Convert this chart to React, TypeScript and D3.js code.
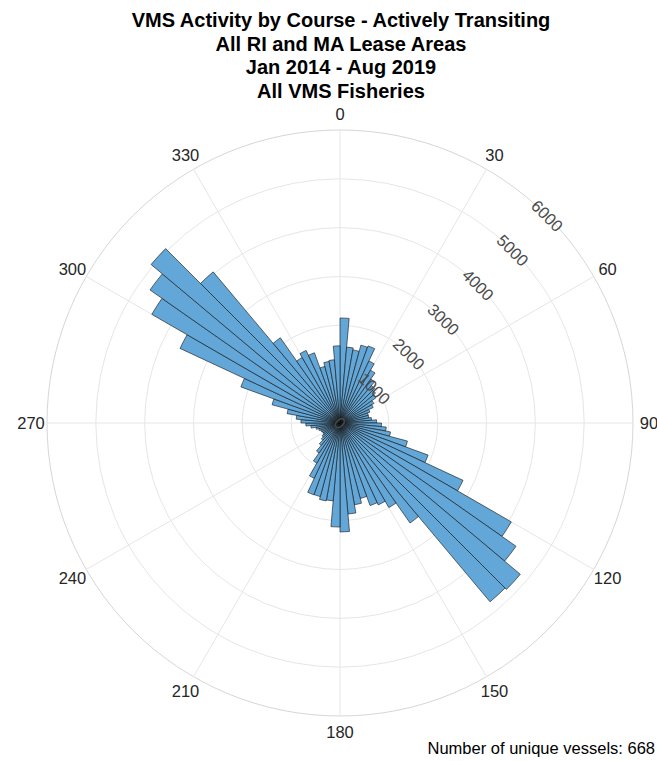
import React from 'react';
import * as d3 from 'd3';

const titleLines = [
  'VMS Activity by Course - Actively Transiting',
  'All RI and MA Lease Areas',
  'Jan 2014 - Aug 2019',
  'All VMS Fisheries',
];

const binStartDeg = [
  0, 5, 10, 15, 20, 25, 30, 35, 40, 45, 50, 55,
  60, 65, 70, 75, 80, 85, 90, 95, 100, 105, 110, 115,
  120, 125, 130, 135, 140, 145, 150, 155, 160, 165, 170, 175,
  180, 185, 190, 195, 200, 205, 210, 215, 220, 225, 230, 235,
  240, 245, 250, 255, 260, 265, 270, 275, 280, 285, 290, 295,
  300, 305, 310, 315, 320, 325, 330, 335, 340, 345, 350, 355,
];

const counts = [
  2150, 1560, 1520, 1650, 1680, 1400, 1250, 1100, 1000, 950, 900, 800,
  750, 650, 600, 600, 650, 750, 850, 950, 1050, 1430, 1920, 2780,
  4050, 4400, 4820, 4780, 2500, 2000, 1850, 1800, 1600, 1700, 1870, 2230,
  2130, 1600, 1620, 1560, 1565, 1250, 950, 750, 600, 500, 450, 400,
  400, 420, 450, 500, 600, 700, 800, 900, 1100, 1440, 2160, 3615,
  4450, 4750, 5050, 4040, 2130, 1550, 1640, 1530, 1200, 1280, 1300, 1580,
];

const binWidthDeg = 5;
const thetaTicks = [0, 30, 60, 90, 120, 150, 180, 210, 240, 270, 300, 330];
const rTicks = [0, 1000, 2000, 3000, 4000, 5000, 6000];
const rMax = 6000;
const rAxisAngleDeg = 45;
const footnote = 'Number of unique vessels: 668';

const FONT = '"Liberation Sans", Arial, Helvetica, sans-serif';

export default function App() {
  const W = 657;
  const H = 761;
  const cx = 340;
  const cy = 423;
  const R = 293;
  const r = d3.scaleLinear().domain([0, rMax]).range([0, R]);
  const rad = (d: number) => (d * Math.PI) / 180;
  const arc = d3.arc<any>();

  const pt = (deg: number, rr: number) => [cx + rr * Math.sin(rad(deg)), cy - rr * Math.cos(rad(deg))];

  return (
    <svg width={W} height={H} style={{ position: 'absolute', left: 0, top: 0, background: '#fff' }} fontFamily={FONT}>
      {titleLines.map((t, i) => (
        <text key={i} x={341} y={20 + i * 23.5} textAnchor="middle" dominantBaseline="central" fontWeight="bold" fontSize={20} fill="#000">
          {t}
        </text>
      ))}
      <g>
        {rTicks.filter((v) => v > 0).map((v) => (
          <circle key={v} cx={cx} cy={cy} r={r(v)} fill="none" stroke={v === rMax ? '#d6d6d6' : '#e6e6e6'} strokeWidth={1} />
        ))}
        {thetaTicks.map((t) => {
          const [x2, y2] = pt(t, R);
          return <line key={t} x1={cx} y1={cy} x2={x2} y2={y2} stroke="#e6e6e6" strokeWidth={1} />;
        })}
      </g>
      <g transform={`translate(${cx},${cy})`}>
        {counts.map((c, i) => (
          <path
            key={i}
            d={arc({
              innerRadius: 0,
              outerRadius: r(c),
              startAngle: rad(binStartDeg[i]),
              endAngle: rad(binStartDeg[i] + binWidthDeg),
            }) as string}
            fill="#62A7D8"
            stroke="#111"
            strokeWidth={0.6}
          />
        ))}
      </g>
      {thetaTicks.map((t) => {
        const [x, y] = pt(t, 309);
        return (
          <text key={t} x={x} y={y} textAnchor="middle" dominantBaseline="central" fontSize={16.5} fill="#262626">
            {t}
          </text>
        );
      })}
      {rTicks.map((v) => {
        const [x, y] = pt(rAxisAngleDeg, r(v));
        return (
          <text key={v} x={x} y={y} transform={`rotate(${rAxisAngleDeg},${x},${y})`} textAnchor="middle" dominantBaseline="central" fontSize={16.5} fill="#4a4a4a">
            {v}
          </text>
        );
      })}
      <text x={655} y={748} textAnchor="end" dominantBaseline="central" fontSize={16.5} fill="#000">
        {footnote}
      </text>
    </svg>
  );
}
